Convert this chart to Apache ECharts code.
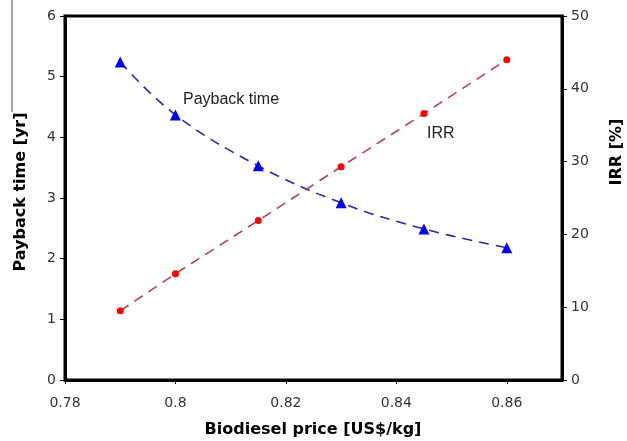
<!DOCTYPE html>
<html>
<head>
<meta charset="utf-8">
<script src="https://cdn.jsdelivr.net/npm/echarts@6/dist/echarts.min.js"></script>
<style>html,body{margin:0;padding:0;background:#fff}#c{width:627px;height:441px}</style>
</head>
<body>
<div id="c"></div>
<script>
const prices = [0.79, 0.80, 0.815, 0.83, 0.845, 0.86];
const paybackTime = [5.24, 4.37, 3.53, 2.92, 2.49, 2.18];
const irr = [9.5, 14.6, 21.9, 29.3, 36.6, 44.0];
const xTicks = [0.78, 0.80, 0.82, 0.84, 0.86];
const leftTicks = [0, 1, 2, 3, 4, 5, 6];
const rightTicks = [0, 10, 20, 30, 40, 50];

const chart = echarts.init(document.getElementById('c'));
const labelStyle = {color: '#333', fontFamily: 'DejaVu Sans', fontSize: 14};
chart.setOption({
  animation: false,
  backgroundColor: '#fff',
  grid: {left: 65, right: 65, top: 16, bottom: 61, show: true, borderColor: '#000', borderWidth: 3, backgroundColor: 'transparent'},
  xAxis: {
    type: 'value', min: xTicks[0], max: 0.87, interval: 0.02,
    splitLine: {show: false},
    axisLine: {lineStyle: {color: '#000', width: 3}},
    axisTick: {length: 4, lineStyle: {color: '#000', width: 1}},
    axisLabel: Object.assign({margin: 16, showMaxLabel: false}, labelStyle)
  },
  yAxis: [{
    type: 'value', min: leftTicks[0], max: leftTicks[leftTicks.length-1], interval: 1,
    splitLine: {show: false},
    axisLine: {show: true, lineStyle: {color: '#000', width: 3}},
    axisTick: {show: true, length: 5, lineStyle: {color: '#000', width: 1}},
    axisLabel: Object.assign({margin: 9}, labelStyle)
  }, {
    type: 'value', min: rightTicks[0], max: rightTicks[rightTicks.length-1], interval: 10,
    position: 'right',
    splitLine: {show: false},
    axisLine: {show: true, lineStyle: {color: '#000', width: 3}},
    axisTick: {show: true, length: 5, lineStyle: {color: '#000', width: 1}},
    axisLabel: Object.assign({margin: 9}, labelStyle)
  }],
  series: [{
    type: 'line', name: 'Payback time', yAxisIndex: 0,
    data: prices.map((p, i) => [p, paybackTime[i]]),
    smooth: 0.4,
    symbol: 'triangle', symbolSize: 11,
    itemStyle: {color: '#0000ff'},
    lineStyle: {color: '#2828a8', width: 1.6, type: [10, 7]}
  }, {
    type: 'line', name: 'IRR', yAxisIndex: 1,
    data: prices.map((p, i) => [p, irr[i]]),
    symbol: 'circle', symbolSize: 7,
    itemStyle: {color: '#ff0000'},
    lineStyle: {color: '#b84050', width: 1.6, type: [10, 7]}
  }],
  graphic: [
    {type: 'line', shape: {x1: 12, y1: 0, x2: 12, y2: 112}, style: {stroke: '#444', lineWidth: 1}},
    {type: 'text', x: 183, y: 100, style: {text: 'Payback time', fill: '#222', font: '16px "Liberation Sans"', textVerticalAlign: 'middle'}},
    {type: 'text', x: 427, y: 134, style: {text: 'IRR', fill: '#222', font: '16px "Liberation Sans"', textVerticalAlign: 'middle'}},
    {type: 'text', x: 313, y: 430, style: {text: 'Biodiesel price [US$/kg]', fill: '#000', font: 'bold 16px "DejaVu Sans"', textAlign: 'center', textVerticalAlign: 'middle'}},
    {type: 'text', x: 21, y: 192, rotation: Math.PI/2, style: {text: 'Payback time [yr]', fill: '#000', font: 'bold 16px "DejaVu Sans"', textAlign: 'center', textVerticalAlign: 'middle'}},
    {type: 'text', x: 617, y: 152, rotation: Math.PI/2, style: {text: 'IRR [%]', fill: '#000', font: 'bold 16px "DejaVu Sans"', textAlign: 'center', textVerticalAlign: 'middle'}}
  ]
});
</script>
</body>
</html>
